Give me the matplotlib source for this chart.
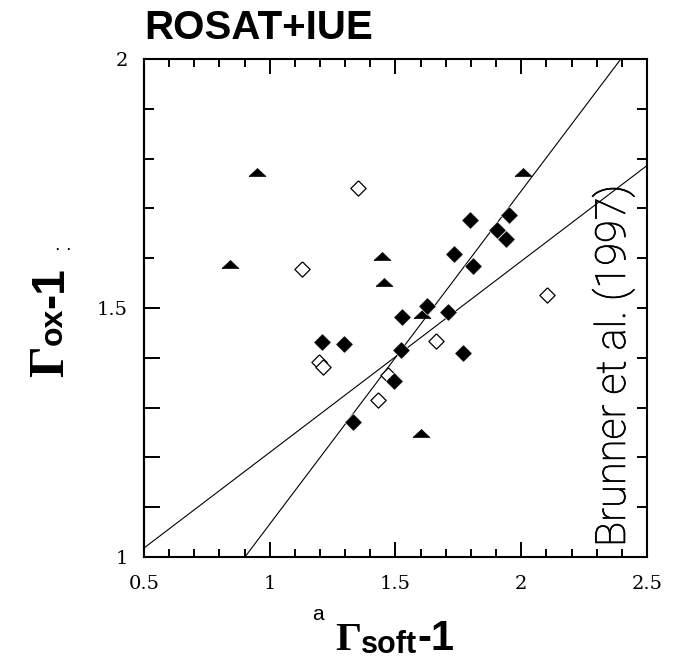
import numpy as np
import matplotlib
matplotlib.use("Agg")
import matplotlib.pyplot as plt
import matplotlib.patheffects as pe
from matplotlib.transforms import IdentityTransform
from matplotlib.ticker import NullLocator

# filled diamonds
filled_x = [1.796, 1.953, 1.902, 1.939, 1.734, 1.809, 1.624, 1.525, 1.707,
            1.209, 1.295, 1.521, 1.770, 1.494, 1.330]
filled_y = [1.677, 1.686, 1.657, 1.639, 1.608, 1.584, 1.503, 1.481, 1.491,
            1.432, 1.428, 1.416, 1.410, 1.354, 1.272]

# open diamonds
open_x = [1.350, 1.127, 2.101, 1.661, 1.196, 1.213, 1.471, 1.432]
open_y = [1.741, 1.578, 1.526, 1.433, 1.391, 1.381, 1.365, 1.316]

# triangles
tri_x = [0.948, 2.008, 0.842, 1.445, 1.456, 1.607, 1.601]
tri_y = [1.774, 1.773, 1.588, 1.604, 1.552, 1.487, 1.248]

# regression lines (slope, intercept)
fit_steep = (0.669, 0.397)
fit_flat = (0.384, 0.826)

xtick_vals = [0.5, 1.0, 1.5, 2.0, 2.5]
xtick_labels = ["0.5", "1", "1.5", "2", "2.5"]
ytick_vals = [1.0, 1.5, 2.0]
ytick_labels = ["1", "1.5", "2"]

SANS = "Liberation Sans"
SERIF = "Liberation Serif"

diamond = [(0, 1), (1, 0), (0, -1), (-1, 0), (0, 1)]
triangle = [(-1, -0.47), (1, -0.47), (0, 0.47), (-1, -0.47)]

fig = plt.figure(figsize=(6.84, 6.59), dpi=100)
ax = fig.add_axes([0.2105, 0.1548, 0.7354, 0.7557])
ax.set_xlim(0.5, 2.5)
ax.set_ylim(1, 2)

xs = np.array([0.5, 2.5])
for slope, icpt in (fit_steep, fit_flat):
    ax.plot(xs, slope * xs + icpt, color="black", lw=0.8)

ax.plot(open_x, open_y, ls="none", marker=diamond, ms=11, mfc="white",
        mec="black", mew=0.9)
ax.plot(tri_x, tri_y, ls="none", marker=triangle, ms=12.2, mfc="black",
        mec="black", mew=0.5)
ax.plot(filled_x, filled_y, ls="none", marker=diamond, ms=12.6, mfc="black",
        mec="white", mew=0.4)

for s in ax.spines.values():
    s.set_linewidth(1.5)

ax.set_xticks(xtick_vals)
ax.set_xticklabels(xtick_labels)
ax.set_xticks(np.arange(0.5, 2.51, 0.1), minor=True)
ax.set_yticks(ytick_vals)
ax.set_yticklabels(ytick_labels)
ax.set_yticks(np.arange(1.0, 2.01, 0.1), minor=True)
ax.tick_params(axis="x", which="major", direction="in", length=10.8, width=1.4,
               top=True, pad=13)
ax.tick_params(axis="x", which="minor", direction="in", length=5.8, width=1.4,
               top=True)
ax.tick_params(axis="y", which="both", direction="in", length=7.2, width=1.4,
               right=True, pad=11.5)
for lab in ax.get_xticklabels() + ax.get_yticklabels():
    lab.set_fontfamily("DejaVu Serif")
    lab.set_fontsize(14)

# longer ticks on the lower left
sec = ax.secondary_yaxis("left")
sec.set_yticks([1.1, 1.2, 1.3, 1.4, 1.5])
sec.yaxis.set_minor_locator(NullLocator())
sec.tick_params(direction="in", length=11.5, width=1.4, labelleft=False)
sec.spines["left"].set_linewidth(1.5)

fig.canvas.draw()
rend = fig.canvas.get_renderer()


def chain(pieces, x0, y0, vertical=False):
    pos = y0 if vertical else x0
    for txt, kw, shift in pieces:
        if vertical:
            t = fig.text(x0 + shift, pos, txt, rotation=90, rotation_mode="anchor",
                         ha="left", va="baseline", transform=IdentityTransform(), **kw)
            pos += t.get_window_extent(rend).height
        else:
            t = fig.text(pos, y0 - shift, txt, ha="left", va="baseline",
                         transform=IdentityTransform(), **kw)
            pos += t.get_window_extent(rend).width


# title
fig.text(144, 620, "ROSAT+IUE", family=SANS, weight="bold", size=29,
         ha="left", va="baseline", transform=IdentityTransform())

# x label
fig.text(312, 39, "a", family=SANS, size=15, ha="left", va="baseline",
         transform=IdentityTransform())
chain([("\u0393", dict(family=SERIF, weight="bold", size=29.5), 0),
       ("soft", dict(family=SANS, weight="bold", size=22), 3),
       ("-1", dict(family=SANS, weight="bold", size=30), 0)], 335, 9)

# y label
chain([("\u0393", dict(family=SERIF, weight="bold", size=36), 0),
       ("ox", dict(family=SANS, weight="bold", size=23), -1),
       ("-1", dict(family=SANS, weight="bold", size=33), 0)], 63, 282, vertical=True)
for dx in (57, 68):
    fig.text(dx, 409, ".", family=SANS, weight="bold", size=9, ha="center",
             va="baseline", transform=IdentityTransform())

# reference note
fig.text(625, 112, "Brunner et al. (1997)", family="Roboto", weight="light",
         size=30, rotation=90, rotation_mode="anchor", ha="left", va="baseline",
         transform=IdentityTransform(),
         path_effects=[pe.withStroke(linewidth=0.5, foreground="black")])

fig.savefig("out.png", dpi=100)
